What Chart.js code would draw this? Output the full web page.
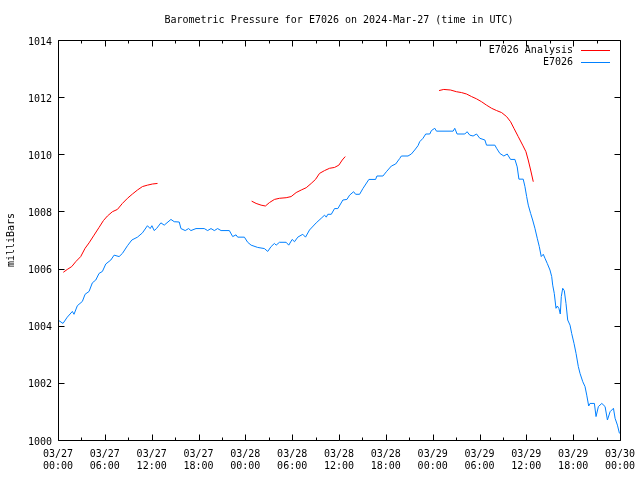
<!DOCTYPE html>
<html lang="en">
<head>
<meta charset="UTF-8">
<title>Barometric Pressure E7026</title>
<script src="https://cdn.jsdelivr.net/npm/chart.js@4.4.1/dist/chart.umd.min.js"></script>
<style>
  body { margin: 0; background: #fff; }
  canvas { display: block; }
</style>
</head>
<body>
<canvas id="grafico" width="640" height="480"></canvas>
<script>
// hours since 03/27 00:00 UTC
const stationHours = [0, 0.64, 1.19, 1.84, 2.05, 2.48, 3.12, 3.47, 3.98, 4.4, 4.84, 5.26, 5.69, 6.12, 6.77, 7.19, 7.83, 8.25, 8.9, 9.46,
  10.18, 10.82, 11.46, 11.81, 12.03, 12.32, 12.62, 13.18, 13.61, 14.47, 14.89, 15.53, 15.75, 16.3, 16.73, 17.03, 17.68, 18.74, 19.17, 19.6,
  20.03, 20.45, 20.89, 21.95, 22.38, 22.81, 23.02, 23.88, 24.3, 24.74, 25.58, 26.44, 26.87, 27.3, 27.73, 27.95, 28.37, 29.23, 29.56, 30.0,
  30.3, 30.72, 31.36, 31.71, 32.22, 33.08, 33.72, 34.15, 34.37, 34.57, 35.01, 35.43, 35.85, 36.5, 37.01, 37.36, 37.87, 38.13, 38.64, 39.06,
  39.83, 40.69, 40.86, 41.63, 42.07, 42.71, 43.26, 43.77, 43.99, 44.84, 45.27, 45.7, 46.12, 46.34, 46.76, 47.11, 47.63, 47.84, 48.27, 48.49,
  50.62, 50.83, 51.13, 52.12, 52.41, 52.76, 53.18, 53.62, 54.04, 54.69, 54.9, 55.97, 56.19, 56.61, 57.12, 57.55, 57.98, 58.54, 58.83, 59.05,
  59.6, 59.82, 60.04, 60.25, 60.55, 60.81, 61.1, 61.4, 61.66, 61.91, 62.17, 62.39, 62.68, 63.03, 63.25, 63.38, 63.58, 63.8, 63.97, 64.18,
  64.35, 64.48, 64.66, 64.86, 65.08, 65.3, 65.6, 65.81, 66.11, 66.37, 66.66, 66.88, 67.23, 67.52, 67.74, 67.99, 68.16, 68.72, 68.93, 69.23,
  69.67, 70.09, 70.39, 70.73, 71.16, 71.37, 71.67, 71.93];
const stationPressure = [1004.2, 1004.08, 1004.3, 1004.5, 1004.4, 1004.7, 1004.85, 1005.1, 1005.2, 1005.5, 1005.6, 1005.83, 1005.9, 1006.16, 1006.3, 1006.47, 1006.42, 1006.53, 1006.8, 1007.0,
  1007.1, 1007.25, 1007.5, 1007.4, 1007.5, 1007.33, 1007.4, 1007.6, 1007.52, 1007.72, 1007.64, 1007.63, 1007.4, 1007.33, 1007.4, 1007.33, 1007.4, 1007.4, 1007.33, 1007.4,
  1007.33, 1007.4, 1007.33, 1007.33, 1007.12, 1007.18, 1007.1, 1007.1, 1006.92, 1006.82, 1006.74, 1006.7, 1006.6, 1006.77, 1006.88, 1006.82, 1006.92, 1006.92, 1006.82, 1007.02,
  1006.94, 1007.1, 1007.2, 1007.1, 1007.35, 1007.6, 1007.76, 1007.87, 1007.8, 1007.9, 1007.9, 1008.1, 1008.1, 1008.4, 1008.42, 1008.57, 1008.69, 1008.6, 1008.6, 1008.8,
  1009.12, 1009.12, 1009.24, 1009.24, 1009.39, 1009.59, 1009.66, 1009.85, 1009.94, 1009.94, 1010.01, 1010.15, 1010.3, 1010.44, 1010.56, 1010.71, 1010.71, 1010.83, 1010.91, 1010.81,
  1010.81, 1010.91, 1010.71, 1010.71, 1010.79, 1010.67, 1010.64, 1010.71, 1010.56, 1010.5, 1010.32, 1010.32, 1010.21, 1010.03, 1009.94, 1010.01, 1009.82, 1009.82, 1009.56, 1009.13,
  1009.13, 1008.87, 1008.52, 1008.22, 1007.93, 1007.7, 1007.41, 1007.06, 1006.77, 1006.42, 1006.5, 1006.36, 1006.18, 1005.95, 1005.72, 1005.42, 1005.13, 1004.61, 1004.69, 1004.6,
  1004.41, 1005.02, 1005.31, 1005.23, 1004.78, 1004.2, 1004.02, 1003.73, 1003.38, 1003.03, 1002.57, 1002.33, 1002.04, 1001.87, 1001.57, 1001.19, 1001.28, 1001.28, 1000.82, 1001.17,
  1001.28, 1001.17, 1000.7, 1000.99, 1001.11, 1000.76, 1000.52, 1000.23];

// analysis runs, null = no analysis (gap in the line)
const analysisHours = [0.68, 1.19, 1.76, 2.27, 2.91, 3.47, 3.98, 4.62, 5.26, 5.82, 6.33, 6.97, 7.61, 8.25, 8.9, 9.54, 10.18, 10.82, 11.46, 12.1, 12.75,
  18,
  24.81, 25.38, 26.02, 26.57, 27.09, 27.73, 28.37, 29.23, 29.87, 30.51, 31.16, 31.8, 32.44, 32.99, 33.5, 34.15, 34.79, 35.43, 35.98, 36.42, 36.8,
  42,
  48.82, 49.42, 50.28, 51.05, 51.69, 52.34, 52.98, 53.62, 54.26, 54.9, 55.55, 56.19, 56.83, 57.47, 57.98, 58.41, 58.96, 59.53, 59.95, 60.24, 60.55, 60.89];
const analysisPressure = [1005.87, 1005.97, 1006.07, 1006.24, 1006.42, 1006.71, 1006.9, 1007.17, 1007.44, 1007.68, 1007.84, 1007.99, 1008.07, 1008.28, 1008.46, 1008.61, 1008.75, 1008.87, 1008.92, 1008.96, 1008.98,
  null,
  1008.36, 1008.28, 1008.22, 1008.19, 1008.31, 1008.42, 1008.46, 1008.48, 1008.52, 1008.66, 1008.75, 1008.83, 1008.98, 1009.12, 1009.33, 1009.43, 1009.51, 1009.54, 1009.62, 1009.8, 1009.92,
  null,
  1012.23, 1012.27, 1012.25, 1012.19, 1012.16, 1012.11, 1012.02, 1011.94, 1011.84, 1011.72, 1011.61, 1011.53, 1011.46, 1011.32, 1011.14, 1010.91, 1010.62, 1010.32, 1010.09, 1009.8, 1009.45, 1009.04];

const xTickLabels = [
  ['03/27', '00:00'], ['03/27', '06:00'], ['03/27', '12:00'], ['03/27', '18:00'],
  ['03/28', '00:00'], ['03/28', '06:00'], ['03/28', '12:00'], ['03/28', '18:00'],
  ['03/29', '00:00'], ['03/29', '06:00'], ['03/29', '12:00'], ['03/29', '18:00'],
  ['03/30', '00:00']
];

const fonte = '"DejaVu Sans Mono", monospace';

// gnuplot-like frame, inward ticks and legend inside the plot
const moldura = {
  id: 'moldura',
  beforeDraw(chart) {
    const ctx = chart.ctx;
    ctx.save();
    ctx.fillStyle = '#fff';
    ctx.fillRect(0, 0, chart.width, chart.height);
    ctx.restore();
  },
  afterDraw(chart) {
    const ctx = chart.ctx;
    const a = chart.chartArea;
    const x = chart.scales.x;
    const y = chart.scales.y;
    const l = Math.round(a.left) + 0.5, r = Math.round(a.right) + 0.5;
    const t = Math.round(a.top) + 0.5, b = Math.round(a.bottom) + 0.5;
    ctx.save();
    ctx.strokeStyle = '#000';
    ctx.lineWidth = 1;
    ctx.beginPath();
    ctx.rect(l, t, r - l, b - t);
    for (let h = 0; h <= 72; h += 3) {
      const px = Math.round(x.getPixelForValue(h)) + 0.5;
      const len = h % 6 === 0 ? 6 : 3;
      ctx.moveTo(px, b); ctx.lineTo(px, b - len);
      ctx.moveTo(px, t); ctx.lineTo(px, t + len);
    }
    y.ticks.forEach(tk => {
      const py = Math.round(y.getPixelForValue(tk.value)) + 0.5;
      ctx.moveTo(l, py); ctx.lineTo(l + 6, py);
      ctx.moveTo(r, py); ctx.lineTo(r - 6, py);
    });
    ctx.stroke();

    ctx.font = '10px ' + fonte;
    ctx.textAlign = 'right';
    ctx.textBaseline = 'middle';
    chart.data.datasets.forEach((ds, i) => {
      const ly = Math.round(a.top) + 10 + i * 12;
      ctx.fillStyle = '#000';
      ctx.fillText(ds.label, a.right - 47, ly);
      ctx.strokeStyle = ds.borderColor;
      ctx.beginPath();
      ctx.moveTo(a.right - 39, ly + 0.5);
      ctx.lineTo(a.right - 10, ly + 0.5);
      ctx.stroke();
    });
    ctx.restore();
  }
};

const config = {
  type: 'line',
  data: {
    datasets: [{
      label: 'E7026 Analysis',
      data: analysisHours.map((h, i) => ({ x: h, y: analysisPressure[i] })),
      borderColor: '#ff0000',
      spanGaps: false
    }, {
      label: 'E7026',
      data: stationHours.map((h, i) => ({ x: h, y: stationPressure[i] })),
      borderColor: '#0080ff'
    }]
  },
  options: {
    responsive: false,
    animation: false,
    layout: { autoPadding: false, padding: { left: 0, right: 20, top: 0, bottom: 0 } },
    elements: {
      point: { radius: 0 },
      line: { borderWidth: 1, tension: 0 }
    },
    plugins: {
      legend: { display: false },
      tooltip: { enabled: false },
      title: {
        display: true,
        fullSize: false,
        text: 'Barometric Pressure for E7026 on 2024-Mar-27 (time in UTC)',
        color: '#000',
        font: { family: fonte, size: 10, weight: 'normal', lineHeight: 1.2 },
        padding: { top: 14, bottom: 14 }
      }
    },
    scales: {
      x: {
        type: 'linear',
        min: 0,
        max: 72,
        afterFit: s => { s.height = 40; s.paddingLeft = 0; s.paddingRight = 0; },
        grid: { display: false, drawTicks: false },
        border: { display: false },
        ticks: {
          stepSize: 6,
          autoSkip: false,
          maxRotation: 0,
          padding: 8,
          color: '#000',
          font: { family: fonte, size: 10, lineHeight: 1.2 },
          callback: v => xTickLabels[v / 6]
        }
      },
      y: {
        min: 1000,
        max: 1014,
        afterFit: s => { s.width = 58; },
        grid: { display: false, drawTicks: false },
        border: { display: false },
        title: {
          display: true,
          text: 'milliBars',
          color: '#000',
          font: { family: fonte, size: 10 },
          padding: { top: 5, bottom: 0 }
        },
        ticks: {
          stepSize: 2,
          padding: 6,
          labelOffset: 2,
          color: '#000',
          font: { family: fonte, size: 10 },
          callback: v => String(v)
        }
      }
    }
  },
  plugins: [moldura]
};

new Chart(document.getElementById('grafico'), config);
</script>
</body>
</html>
